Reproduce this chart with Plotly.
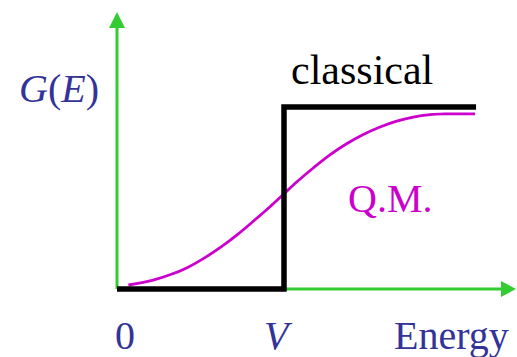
import plotly.graph_objects as go

# Data (energy in units of V, G normalised to 1)
energy_classical = [0.0, 1.0, 1.0, 2.15]
g_classical = [0.0, 0.0, 1.0, 1.0]

energy_qm = [0.068, 0.217, 0.317, 0.417, 0.517, 0.617, 0.717, 0.816, 0.916, 0.996,
             1.076, 1.175, 1.275, 1.375, 1.475, 1.575, 1.675, 1.774, 1.874, 1.974, 2.144]
g_qm = [0.022, 0.049, 0.078, 0.116, 0.167, 0.227, 0.296, 0.372, 0.452, 0.520,
        0.588, 0.665, 0.737, 0.798, 0.849, 0.890, 0.922, 0.945, 0.958, 0.962, 0.962]

x_tick_vals = [0.0, 1.0]
x_tick_text = ["0", "<i>V</i>"]

W, H = 517, 357
x0_px, x1_px = 117.0, 284.0
y0_px, y1_px = 289.0, 107.0
sx = x1_px - x0_px
sy = y0_px - y1_px
xr = [(0 - x0_px) / sx, (W - x0_px) / sx]
yr = [(y0_px - H) / sy, (y0_px - 0) / sy]

def px_x(p):
    return (p - x0_px) / sx

def px_y(p):
    return (y0_px - p) / sy

navy = "#333399"
green = "#33cc33"
magenta = "#cc00cc"
font_family = "Liberation Serif, Times New Roman, serif"

fig = go.Figure()
fig.add_trace(go.Scatter(x=energy_qm, y=g_qm, mode="lines",
                         line=dict(color=magenta, width=2.8, shape="spline", smoothing=1.0),
                         hoverinfo="skip", showlegend=False))
fig.add_trace(go.Scatter(x=energy_classical, y=g_classical, mode="lines",
                         line=dict(color="black", width=5.5),
                         hoverinfo="skip", showlegend=False))

shapes = []
x_tip_end = px_x(501)
y_tip_end = px_y(28)
shapes.append(dict(type="line", x0=0, y0=0, x1=0, y1=y_tip_end,
                   line=dict(color=green, width=3), layer="below"))
shapes.append(dict(type="line", x0=0, y0=0, x1=x_tip_end, y1=0,
                   line=dict(color=green, width=3), layer="below"))
ax_half = 8.0 / sx
ay_half = 8.0 / sy
shapes.append(dict(type="path",
                   path=f"M {-ax_half} {y_tip_end} L {ax_half} {y_tip_end} L 0 {px_y(12)} Z",
                   fillcolor=green, line=dict(color=green, width=0), layer="below"))
shapes.append(dict(type="path",
                   path=f"M {x_tip_end} {-ay_half} L {x_tip_end} {ay_half} L {px_x(516)} 0 Z",
                   fillcolor=green, line=dict(color=green, width=0), layer="below"))

annotations = []
for v, t in zip(x_tick_vals, x_tick_text):
    annotations.append(dict(x=v + (8 / sx if v == 0 else -6 / sx), y=px_y(335), text=t, showarrow=False,
                            xanchor="center", yanchor="middle",
                            font=dict(family=font_family, size=40, color=navy)))
annotations.append(dict(x=px_x(451), y=px_y(335), text="Energy", showarrow=False,
                        xanchor="center", yanchor="middle",
                        font=dict(family=font_family, size=40, color=navy)))
annotations.append(dict(x=px_x(59), y=px_y(88), text="<i>G</i>(<i>E</i>)", showarrow=False,
                        xanchor="center", yanchor="middle",
                        font=dict(family=font_family, size=40, color=navy)))
annotations.append(dict(x=px_x(362), y=px_y(70), text="classical", showarrow=False,
                        xanchor="center", yanchor="middle",
                        font=dict(family=font_family, size=42, color="black")))
annotations.append(dict(x=px_x(390), y=px_y(198), text="Q.M.", showarrow=False,
                        xanchor="center", yanchor="middle",
                        font=dict(family=font_family, size=40, color=magenta)))

fig.update_layout(
    width=W, height=H,
    margin=dict(l=0, r=0, t=0, b=0),
    paper_bgcolor="white", plot_bgcolor="white",
    font=dict(family=font_family),
    xaxis=dict(range=xr, visible=False, fixedrange=True),
    yaxis=dict(range=yr, visible=False, fixedrange=True),
    shapes=shapes, annotations=annotations,
    showlegend=False,
)

fig.write_html("out.html", config={"displayModeBar": False},
               post_script="document.body.style.margin='0';document.body.style.overflow='hidden';")
